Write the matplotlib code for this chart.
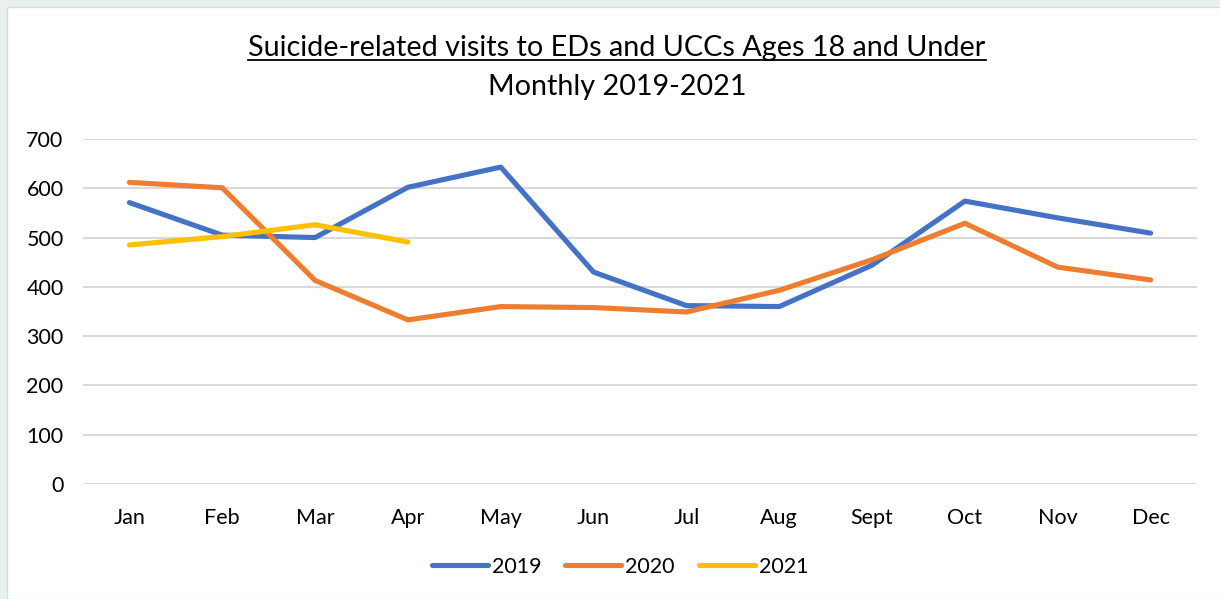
import numpy as np
import matplotlib.pyplot as plt
from matplotlib.patches import Rectangle
from matplotlib.lines import Line2D

plt.rcParams['font.family'] = ['Lato', 'DejaVu Sans']

# data
months = ['Jan', 'Feb', 'Mar', 'Apr', 'May', 'Jun', 'Jul', 'Aug', 'Sept', 'Oct', 'Nov', 'Dec']
v2019 = [571, 505, 500, 602, 643, 430, 362, 360, 444, 574, 540, 509]
v2020 = [612, 601, 413, 333, 360, 358, 349, 393, 455, 529, 440, 414]
v2021 = [485, 502, 526, 491]
yticks = [0, 100, 200, 300, 400, 500, 600, 700]

fig = plt.figure(figsize=(12.2, 5.99), dpi=100)
fig.patch.set_facecolor('#E8F1EE')
# white chart area inside the thin border
fig.patches.append(Rectangle((7 / 1220, 0), 1.0, 1 - 7 / 599, transform=fig.transFigure,
                             facecolor='white', edgecolor='#D5DEDB', linewidth=1.0, zorder=-5))

ax = fig.add_axes([83 / 1220, 1 - 484 / 599, (1197 - 83) / 1220, (484 - 139) / 599])
ax.set_facecolor('none')
ax.set_zorder(2)

lw = 3.7
x = np.arange(len(months))
ax.plot(x, v2019, color='#4472C4', lw=lw, label='2019', solid_capstyle='round', solid_joinstyle='round')
ax.plot(x, v2020, color='#ED7D31', lw=lw, label='2020', solid_capstyle='round', solid_joinstyle='round')
ax.plot(x[:len(v2021)], v2021, color='#FFC000', lw=lw, label='2021', solid_capstyle='round', solid_joinstyle='round')

ax.set_xlim(-0.5, len(months) - 0.5)
ax.set_ylim(0, 700)
ax.set_yticks(yticks)
ax.set_xticks(x)
ax.set_xticklabels(months)
ax.tick_params(axis='both', length=0, labelsize=15.5, colors='black')
ax.tick_params(axis='x', pad=17)
ax.tick_params(axis='y', pad=14)
ax.grid(axis='y', color='#D9D9D9', linewidth=1.5)
ax.set_axisbelow(True)
for s in ax.spines.values():
    s.set_visible(False)

t1 = fig.text(617 / 1220, 1 - 48 / 599, 'Suicide-related visits to EDs and UCCs Ages 18 and Under',
              ha='center', va='center', fontsize=20.7)
fig.text(617 / 1220, 1 - 87 / 599, 'Monthly 2019-2021', ha='center', va='center', fontsize=20.7)

leg = fig.legend(loc='center', bbox_to_anchor=(620 / 1220, 1 - 567 / 599), ncol=3, frameon=False,
                 fontsize=15.5, handlelength=2.6, handletextpad=0.2, columnspacing=1.1)
for h in leg.get_lines():
    h.set_linewidth(lw)

# underline the first title line
fig.canvas.draw()
bb = t1.get_window_extent().transformed(fig.transFigure.inverted())
fig.lines.append(Line2D([bb.x0, bb.x1], [bb.y0 + 0.002, bb.y0 + 0.002], transform=fig.transFigure,
                        color='black', linewidth=1.3))

fig.savefig('out.png', dpi=100, facecolor=fig.get_facecolor())
